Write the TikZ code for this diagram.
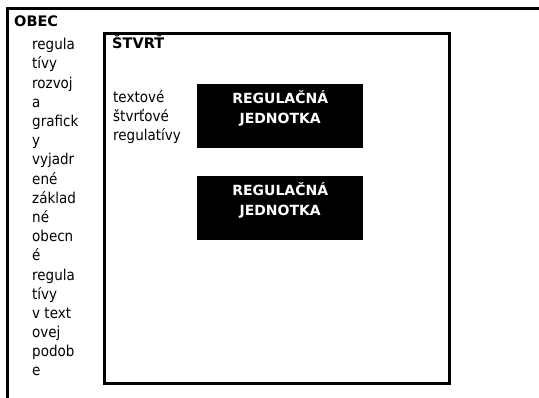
\documentclass[tikz,border=0pt]{standalone}
\usepackage{fontspec}
\setmainfont{DejaVu Sans}
\newfontfamily\condfont{DejaVu Sans Condensed}
\begin{document}
\begin{tikzpicture}[x=1pt,y=-1pt,
  frame/.style={line width=3pt},
  plaintext/.style={inner sep=0pt,align=left,font=\condfont\fontsize{15}{19.2}\selectfont},
  headtext/.style={inner sep=0pt,font=\bfseries\fontsize{14.5}{17}\selectfont},
  unitbox/.style={fill=black,minimum width=166pt,minimum height=64pt,inner sep=0pt,anchor=north west},
  unittext/.style={inner sep=0pt,align=center,text=white,font=\bfseries\fontsize{14}{19.5}\selectfont}]
\useasboundingbox (0,0) rectangle (539,398);
% outer frame (OBEC)
\coordinate (otl) at (7,9);
\coordinate (obl) at (7,400);
\coordinate (otr) at (541,9);
\draw[frame] (obl) -- (otl) -- (otr);
\node[headtext,anchor=base west] (obec) at (14,27) {OBEC};
% multi-line nodes: base anchor = baseline of the last line
\node[plaintext,anchor=base west] (obectext) at (32,376) {regula\\tívy\\rozvoj\\a\\grafick\\y\\vyjadr\\ené\\základ\\né\\obecn\\é\\regula\\tívy\\v text\\ovej\\podob\\e};
% inner box
\node[frame,draw,minimum width=345pt,minimum height=350pt,anchor=north west,inner sep=0pt] (stvrtbox) at (103,32) {};
\node[headtext,anchor=base west] (stvrt) at (112,49) {ŠTVRŤ};
\node[plaintext,anchor=base west] (textove) at (113,141) {textové\\štvrťové\\regulatívy};
% units
\node[unitbox] (ru1) at (197,84) {};
\node[unittext,anchor=base] (ru1t) at ([yshift=-39.5pt]ru1.north) {REGULAČNÁ\\JEDNOTKA};
\node[unitbox] (ru2) at (197,176) {};
\node[unittext,anchor=base] (ru2t) at ([yshift=-39.5pt]ru2.north) {REGULAČNÁ\\JEDNOTKA};
\end{tikzpicture}
\end{document}
